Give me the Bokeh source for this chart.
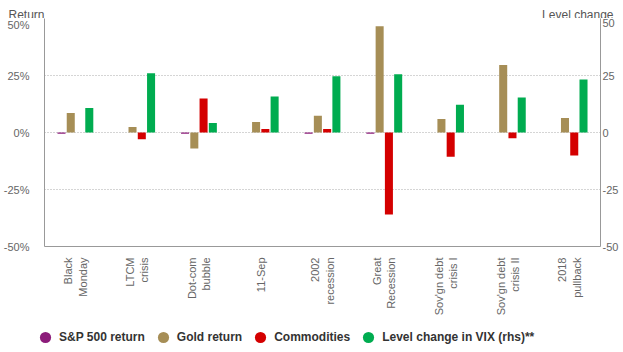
from bokeh.plotting import figure
from bokeh.layouts import column
from bokeh.models import (ColumnDataSource, FactorRange, Range1d, LinearAxis, FixedTicker,
                          PrintfTickFormatter, Legend, LegendItem, Label)
from bokeh.transform import dodge
from bokeh.embed import file_html
from bokeh.resources import INLINE

events = ["Black\nMonday", "LTCM\ncrisis", "Dot-com\nbubble", "11-Sep", "2002\nrecession",
          "Great\nRecession", "Sov'gn debt\ncrisis I", "Sov'gn debt\ncrisis II", "2018\npullback"]
sp500 = [-0.6, 0, -0.6, 0, -0.6, -0.6, 0, 0, 0]
gold = [8.6, 2.4, -7.0, 4.6, 7.3, 46.6, 5.9, 29.6, 6.4]
commodities = [0, -3.0, 14.9, 1.5, 1.5, -36.0, -10.6, -2.5, -10.1]
vix = [10.8, 26.0, 4.2, 15.8, 24.7, 25.6, 12.2, 15.3, 23.3]
left_ticks = [-50, -25, 0, 25, 50]
axis_titles = ["Return", "Level change"]

series_names = ["S&P 500 return", "Gold return", "Commodities", "Level change in VIX (rhs)**"]
colors = ["#8c1c7a", "#a68e56", "#d40000", "#00ac50"]

src = ColumnDataSource(dict(event=events, sp=sp500, gold=gold, com=commodities, vix=vix))

FONT = "Liberation Sans"
W = 623
unaligned = True

def no_align(f):
    global unaligned
    try:
        f.frame_align = False
    except Exception:
        unaligned = False

def bare(height, yr):
    f = figure(width=W, height=height, x_range=Range1d(0, W), y_range=Range1d(0, yr),
               output_backend="svg", toolbar_location=None,
               x_axis_location=None, y_axis_location=None,
               min_border_left=0, min_border_right=0, min_border_top=0, min_border_bottom=0)
    f.outline_line_color = None
    f.xgrid.visible = False
    f.ygrid.visible = False
    no_align(f)
    return f

# ---- top strip: axis titles ----
top = bare(18, 18)

# ---- main chart ----
p = figure(width=W, height=300, x_range=FactorRange(factors=events, range_padding=0),
           y_range=Range1d(-50, 50), output_backend="svg", toolbar_location=None,
           min_border_left=44, min_border_right=23, min_border_top=0, min_border_bottom=72)
no_align(p)
p.extra_y_ranges = {"rhs": Range1d(-50, 50)}
p.outline_line_color = None

# ---- bottom strip: legend ----
leg = bare(34, 34)

if unaligned:
    tx = (44, 613)
    lx = 31
else:
    tx = (44 + 44 * 556 / 623, 44 + 613 * 556 / 623)
    lx = 31
    tx = (44, 613)

top.add_layout(Label(x=tx[0], y=4, text=axis_titles[0], text_align="right",
                     text_baseline="alphabetic", text_font=FONT, text_font_size="12px",
                     text_color="#555555"))
top.add_layout(Label(x=tx[1], y=4, text=axis_titles[1], text_align="right",
                     text_baseline="alphabetic", text_font=FONT, text_font_size="12px",
                     text_color="#555555"))

w = 0.13
offs = [-0.225, -0.075, 0.075, 0.225]
cols = ["sp", "gold", "com", "vix"]
for i, c in enumerate(cols):
    kw = {}
    if c == "vix":
        kw["y_range_name"] = "rhs"
    p.vbar(x=dodge("event", offs[i], range=p.x_range), top=c, bottom=0, width=w, source=src,
           fill_color=colors[i], line_color=None, **kw)

p.xgrid.grid_line_color = None
p.ygrid.ticker = FixedTicker(ticks=left_ticks)
p.ygrid.grid_line_color = "#aaaaaa"
p.ygrid.grid_line_dash = "1 2"

def style_axis(ax, standoff):
    ax.axis_line_color = "#999999"
    ax.major_tick_line_color = None
    ax.minor_tick_line_color = None
    ax.major_tick_out = 0
    ax.major_tick_in = 0
    ax.major_label_standoff = standoff
    ax.major_label_text_font = FONT
    ax.major_label_text_font_size = "11px"
    ax.major_label_text_color = "#666666"

ya = p.yaxis[0]
ya.ticker = FixedTicker(ticks=left_ticks)
ya.formatter = PrintfTickFormatter(format="%d%%")
style_axis(ya, 15)

ra = LinearAxis(y_range_name="rhs", ticker=FixedTicker(ticks=left_ticks),
                formatter=PrintfTickFormatter(format="%d"))
style_axis(ra, 2)
p.add_layout(ra, "right")

xa = p.xaxis[0]
style_axis(xa, 11)
xa.major_label_orientation = 1.5707963

items = []
for name, col in zip(series_names, colors):
    # zero-size proxy point: only its legend circle is visible
    r = leg.scatter(x=[W / 2], y=[17], marker="circle", size=0, fill_color=col, line_color=None)
    items.append(LegendItem(label=name, renderers=[r]))
legend = Legend(items=items, orientation="horizontal", location=(lx, 1),
                glyph_width=28, glyph_height=28, label_standoff=0, spacing=4,
                padding=0, margin=0, border_line_color=None, background_fill_alpha=0,
                label_text_font=FONT, label_text_font_size="12px",
                label_text_font_style="bold", label_text_color="#333333")
leg.add_layout(legend, "center")

layout = column(top, p, leg, spacing=0)
open("out.html", "w").write(file_html(layout, INLINE))
